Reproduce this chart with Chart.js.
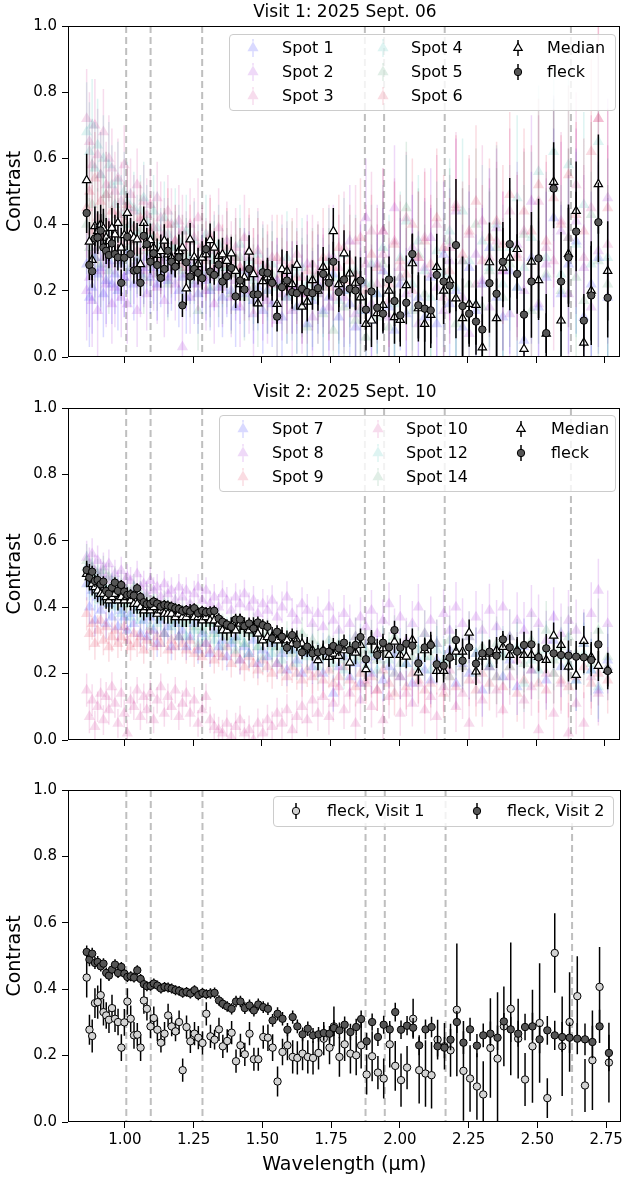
<!DOCTYPE html>
<html>
<head>
<meta charset="utf-8">
<script src="https://cdn.jsdelivr.net/npm/chart.js@4.4.0/dist/chart.umd.min.js"></script>
<style>
  body { margin: 0; background: #fff; font-family: 'DejaVu Sans', sans-serif; }
  #fig { position: relative; width: 626px; height: 1179px; overflow: hidden; }
  canvas { position: absolute; left: 0; }
  .title { position: absolute; left: 68px; width: 554px; text-align: center; font-size: 17px; line-height: 20px; }
  .legend { position: absolute; box-sizing: border-box; border: 1px solid #cccccc; border-radius: 4px; background: rgba(255,255,255,0.8); font-size: 16px; }
  .item { position: absolute; height: 24px; line-height: 24px; white-space: nowrap; }
  .item svg { position: absolute; left: 0; top: 0; }
</style>
</head>
<body>
<div id="fig">
  <canvas id="c1" width="626" height="372" style="top:0px"></canvas>
  <canvas id="c2" width="626" height="373" style="top:382px"></canvas>
  <canvas id="c3" width="626" height="415" style="top:764px"></canvas>
  <div class="title" style="top:1px">Visit 1: 2025 Sept. 06</div>
  <div class="title" style="top:381px">Visit 2: 2025 Sept. 10</div>
  <div class="legend" id="leg1" style="left:229px;top:34px;width:387px;height:77px"></div>
  <div class="legend" id="leg2" style="left:219px;top:415px;width:397px;height:77px"></div>
  <div class="legend" id="leg3" style="left:273px;top:796px;width:341px;height:31px"></div>
</div>
<script>
// wavelength grid (micron)
const wavelength = [
  0.861,0.871,0.881,0.891,0.901,0.912,0.922,0.932,0.942,0.953,
  0.964,0.975,0.987,0.998,1.009,1.021,1.033,1.045,1.057,1.069,
  1.080,1.093,1.105,1.118,1.131,1.144,1.157,1.170,1.184,1.197,
  1.210,1.224,1.238,1.253,1.267,1.282,1.296,1.311,1.326,1.342,
  1.356,1.372,1.388,1.404,1.420,1.436,1.453,1.469,1.485,1.503,
  1.520,1.537,1.555,1.573,1.591,1.610,1.627,1.646,1.665,1.684,
  1.704,1.723,1.744,1.760,1.780,1.799,1.820,1.841,1.859,1.879,
  1.899,1.920,1.941,1.963,1.983,2.004,2.026,2.048,2.070,2.093,
  2.115,2.137,2.162,2.184,2.207,2.231,2.255,2.280,2.303,2.329,
  2.355,2.378,2.403,2.430,2.455,2.482,2.508,2.536,2.563,2.590,
  2.617,2.645,2.673,2.700,2.726,2.760];

// fleck, visit 1
const fleck1 = [
  .435,.278,.259,.358,.361,.382,.331,.321,.308,.343,
  .311,.301,.224,.300,.363,.311,.261,.263,.224,.366,
  .341,.288,.313,.278,.239,.266,.321,.288,.273,.301,
  .156,.286,.243,.266,.254,.238,.326,.258,.248,.279,
  .228,.244,.269,.183,.231,.204,.266,.189,.189,.256,
  .254,.224,.122,.211,.231,.196,.193,.206,.196,.193,
  .208,.251,.224,.288,.196,.234,.206,.201,.231,.143,
  .198,.149,.131,.234,.169,.126,.164,.311,.156,.146,
  .141,.248,.228,.216,.338,.154,.131,.107,.083,.223,
  .191,.288,.341,.251,.128,.228,.298,.072,.509,.228,
  .301,.379,.110,.186,.407,.179];
const fleck1Err = [
  .06,.045,.05,.045,.05,.05,.04,.04,.04,.04,
  .04,.04,.04,.04,.04,.04,.04,.035,.04,.04,
  .035,.035,.035,.035,.03,.035,.035,.03,.03,.035,
  .035,.035,.035,.035,.035,.035,.035,.035,.03,.035,
  .035,.035,.035,.035,.035,.035,.035,.035,.035,.035,
  .04,.04,.045,.04,.045,.05,.05,.05,.05,.05,
  .05,.05,.05,.06,.06,.05,.06,.06,.07,.06,
  .075,.05,.06,.07,.075,.08,.065,.06,.1,.1,
  .1,.06,.07,.08,.2,.15,.1,.1,.1,.15,
  .2,.12,.2,.12,.08,.17,.18,.06,.12,.15,
  .15,.12,.08,.15,.12,.12];

// fleck, visit 2
const fleck2 = [
  .512,.489,.507,.479,.482,.469,.477,.449,.441,.459,
  .474,.449,.467,.447,.437,.439,.435,.457,.431,.415,
  .409,.410,.417,.411,.402,.407,.405,.402,.397,.395,
  .389,.392,.387,.397,.382,.389,.385,.387,.389,.366,
  .356,.348,.341,.363,.363,.343,.351,.336,.354,.346,
  .341,.306,.326,.311,.278,.316,.288,.264,.281,.261,
  .264,.268,.266,.283,.276,.293,.271,.286,.310,.243,
  .301,.256,.293,.279,.331,.278,.290,.284,.231,.279,
  .286,.228,.224,.248,.301,.239,.279,.230,.261,.266,
  .254,.303,.279,.266,.286,.288,.249,.276,.261,.256,
  .254,.251,.249,.241,.288,.208];
const fleck2Err = [
  .02,.02,.018,.018,.018,.016,.016,.016,.016,.016,
  .016,.015,.015,.015,.015,.015,.015,.015,.015,.015,
  .015,.015,.015,.015,.015,.015,.015,.015,.015,.015,
  .015,.015,.015,.015,.015,.015,.015,.016,.016,.016,
  .016,.016,.017,.017,.017,.018,.018,.018,.018,.018,
  .019,.019,.02,.02,.02,.02,.021,.021,.022,.022,
  .022,.023,.023,.024,.024,.025,.025,.025,.026,.026,
  .026,.027,.027,.015,.028,.028,.029,.029,.03,.03,
  .031,.031,.032,.032,.033,.034,.035,.035,.036,.037,
  .037,.025,.038,.039,.04,.041,.042,.043,.044,.045,
  .046,.047,.048,.049,.05,.055];

// median of spots, visit 1
const median1 = [
  .534,.348,.293,.395,.38,.40,.388,.36,.35,.39,
  .37,.405,.33,.368,.435,.37,.36,.355,.28,.405,
  .34,.353,.33,.308,.32,.351,.31,.30,.29,.32,
  .33,.207,.355,.301,.28,.30,.31,.353,.33,.305,
  .31,.29,.313,.26,.22,.24,.318,.25,.162,.229,
  .24,.23,.16,.265,.26,.22,.278,.152,.167,.232,
  .20,.272,.24,.38,.22,.313,.252,.224,.18,.10,
  .11,.132,.157,.20,.12,.112,.217,.283,.147,.10,
  .127,.272,.20,.232,.177,.117,.16,.157,.029,.286,
  .117,.27,.30,.326,.024,.288,.232,.07,.529,.11,
  .311,.441,.043,.20,.522,.26];
const median1Err = [
  .08,.06,.06,.06,.06,.06,.06,.06,.06,.06,
  .06,.06,.06,.06,.06,.05,.05,.05,.05,.05,
  .05,.05,.05,.05,.05,.05,.05,.05,.05,.05,
  .05,.05,.05,.05,.05,.05,.05,.05,.05,.05,
  .05,.05,.05,.05,.05,.05,.05,.05,.06,.06,
  .06,.06,.06,.06,.06,.06,.06,.08,.06,.06,
  .06,.06,.06,.07,.07,.07,.07,.08,.08,.08,
  .08,.08,.08,.08,.08,.08,.09,.09,.1,.1,
  .1,.1,.1,.1,.12,.12,.12,.12,.1,.12,
  .12,.12,.12,.15,.12,.15,.12,.12,.12,.15,
  .15,.15,.12,.15,.15,.15];

// median of spots, visit 2
const median2 = [
  .50,.49,.47,.46,.45,.44,.44,.43,.42,.43,
  .44,.42,.43,.42,.43,.42,.41,.41,.40,.39,
  .40,.39,.40,.38,.39,.38,.38,.38,.37,.38,
  .37,.37,.38,.37,.37,.36,.37,.36,.36,.35,
  .33,.33,.34,.33,.35,.34,.33,.34,.32,.30,
  .31,.31,.30,.31,.30,.29,.30,.29,.28,.27,
  .24,.27,.25,.26,.253,.27,.233,.263,.286,.213,
  .296,.27,.276,.256,.296,.256,.251,.301,.203,.27,
  .291,.208,.208,.25,.266,.266,.323,.206,.251,.26,
  .27,.28,.256,.27,.256,.256,.25,.241,.314,.286,
  .221,.196,.298,.25,.223,.211];
const median2Err = [
  .04,.04,.035,.035,.035,.035,.035,.035,.035,.035,
  .03,.03,.03,.03,.03,.03,.03,.03,.03,.03,
  .03,.03,.03,.03,.03,.03,.03,.03,.03,.03,
  .03,.03,.03,.03,.03,.03,.03,.03,.03,.03,
  .03,.03,.03,.03,.03,.03,.03,.03,.03,.03,
  .03,.03,.03,.03,.03,.03,.03,.03,.03,.03,
  .03,.03,.03,.03,.03,.03,.035,.035,.035,.035,
  .035,.035,.035,.035,.035,.035,.035,.035,.035,.035,
  .035,.035,.035,.035,.04,.04,.04,.04,.04,.04,
  .04,.04,.04,.04,.04,.04,.04,.04,.04,.04,
  .045,.045,.045,.045,.045,.05];

// individual spots, visit 1
const spot1 = [
  .28,.18,.21,.30,.25,.27,.19,.23,.29,.22,
  .25,.20,.28,.24,.31,.26,.22,.29,.25,.27,
  .30,.24,.27,.22,.26,.29,.23,.25,.28,.20,
  .24,.18,.27,.22,.19,.25,.23,.20,.26,.21,
  .18,.24,.20,.15,.22,.19,.25,.17,.21,.14,
  .20,.16,.23,.12,.18,.21,.15,.19,.10,.17,
  .22,.14,.18,.25,.12,.20,.16,.09,.23,.14,
  .11,.19,.26,.15,.08,.22,.13,.29,.18,.12,
  .24,.10,.31,.16,.20,.09,.27,.14,.22,.33,
  .18,.12,.26,.21,.05,.30,.15,.24,.42,.19,
  .28,.35,.12,.22,.30,.18];
const spot2 = [
  .20,.24,.17,.32,.14,.26,.30,.22,.28,.16,
  .21,.29,.18,.24,.16,.31,.27,.14,.23,.26,
  .19,.28,.25,.21,.30,.17,.24,.27,.22,.32,
  .03,.25,.18,.29,.22,.27,.20,.24,.16,.28,
  .21,.25,.18,.23,.15,.26,.20,.13,.24,.18,
  .17,.22,.11,.19,.25,.14,.21,.16,.28,.12,
  .19,.24,.15,.30,.21,.18,.35,.13,.22,.42,
  .16,.28,.38,.12,.45,.24,.19,.33,.10,.27,
  .36,.21,.14,.29,.44,.18,.07,.31,.23,.15,
  .39,.26,.13,.34,.20,.47,.16,.28,.52,.38,
  .19,.41,.27,.15,.32,.48];
const spot3 = [
  .72,.65,.58,.70,.61,.55,.68,.52,.60,.57,
  .50,.54,.47,.58,.45,.49,.44,.52,.41,.47,
  .43,.46,.39,.48,.42,.37,.44,.40,.35,.41,
  .38,.33,.40,.36,.42,.34,.30,.37,.32,.39,
  .31,.35,.29,.33,.27,.36,.30,.26,.32,.28,
  .25,.30,.23,.29,.27,.21,.31,.24,.19,.28,
  .26,.22,.30,.18,.27,.33,.21,.35,.15,.28,
  .38,.22,.31,.17,.35,.27,.42,.20,.30,.36,
  .25,.40,.18,.33,.46,.29,.37,.22,.41,.30,
  .35,.26,.44,.31,.38,.23,.47,.33,.29,.41,
  .36,.52,.30,.45,.72,.34];
const spot4 = [
  .68,.62,.70,.57,.64,.55,.60,.49,.58,.52,
  .46,.53,.43,.50,.47,.40,.45,.38,.44,.48,
  .41,.36,.44,.39,.34,.42,.37,.33,.40,.35,
  .32,.38,.30,.35,.28,.33,.37,.29,.31,.34,
  .27,.32,.25,.30,.34,.26,.29,.23,.31,.27,
  .24,.28,.21,.26,.30,.19,.25,.27,.22,.18,
  .25,.21,.29,.24,.17,.31,.20,.26,.14,.22,
  .28,.19,.33,.24,.16,.30,.41,.22,.35,.26,
  .18,.32,.25,.38,.21,.44,.29,.16,.35,.27,
  .40,.22,.33,.48,.27,.36,.56,.30,.62,.25,
  .58,.34,.46,.28,.65,.30];
const spot5 = [
  .40,.33,.46,.30,.37,.28,.42,.35,.26,.38,
  .31,.36,.29,.40,.33,.27,.35,.30,.38,.24,
  .32,.28,.36,.25,.30,.34,.22,.29,.33,.27,
  .26,.31,.23,.28,.14,.30,.25,.21,.29,.24,
  .22,.27,.19,.25,.30,.18,.24,.21,.16,.26,
  .20,.25,.12,.22,.18,.27,.15,.21,.09,.24,
  .19,.13,.23,.08,.20,.15,.26,.11,.18,.06,
  .22,.12,.28,.09,.17,.24,.45,.14,.31,.19,
  .13,.27,.20,.35,.10,.29,.22,.40,.15,.26,
  .33,.18,.28,.21,.37,.14,.30,.25,.51,.20,
  .36,.24,.17,.43,.29,.22];
const spot6 = [
  .45,.50,.38,.54,.42,.47,.36,.49,.40,.44,
  .37,.43,.34,.41,.46,.35,.39,.32,.42,.36,
  .33,.38,.31,.36,.29,.34,.40,.30,.35,.28,
  .32,.27,.35,.30,.26,.33,.29,.36,.27,.31,
  .28,.33,.25,.30,.27,.24,.32,.26,.29,.23,
  .27,.22,.30,.25,.21,.28,.24,.19,.26,.23,
  .25,.30,.21,.27,.33,.23,.29,.25,.36,.20,
  .31,.27,.38,.22,.34,.29,.25,.40,.30,.35,
  .28,.42,.33,.26,.45,.31,.38,.47,.29,.36,
  .41,.34,.49,.30,.44,.38,.52,.35,.48,.40,
  .55,.43,.38,.62,.72,.45];
const spotErr1 = [
  .15,.15,.14,.14,.14,.13,.13,.13,.13,.12,
  .12,.12,.12,.12,.12,.11,.11,.11,.11,.11,
  .11,.11,.11,.11,.11,.11,.11,.11,.11,.11,
  .11,.11,.11,.12,.12,.12,.12,.12,.12,.12,
  .12,.12,.12,.12,.12,.13,.13,.13,.13,.13,
  .13,.13,.13,.14,.14,.14,.14,.15,.15,.15,
  .15,.15,.16,.16,.16,.17,.17,.17,.18,.18,
  .18,.18,.19,.19,.19,.20,.20,.20,.20,.21,
  .21,.21,.22,.22,.22,.22,.23,.23,.23,.24,
  .24,.24,.25,.25,.25,.26,.26,.26,.27,.27,
  .27,.28,.28,.28,.29,.30];

// individual spots, visit 2
const spot7 = [
  .47,.40,.45,.36,.43,.39,.44,.35,.41,.37,
  .42,.34,.39,.37,.33,.38,.35,.40,.32,.36,
  .31,.37,.33,.29,.36,.32,.34,.28,.35,.31,
  .33,.28,.31,.35,.27,.32,.29,.26,.33,.28,
  .30,.25,.29,.31,.24,.28,.26,.30,.23,.27,
  .25,.29,.23,.26,.21,.27,.24,.20,.26,.22,
  .24,.20,.26,.14,.22,.25,.19,.23,.17,.24,
  .20,.25,.18,.22,.26,.19,.23,.17,.24,.21,
  .18,.24,.21,.27,.17,.23,.20,.26,.15,.22,
  .27,.19,.24,.16,.28,.21,.25,.18,.30,.22,
  .26,.18,.29,.21,.15,.24];
const spot8 = [
  .55,.53,.56,.51,.54,.50,.52,.49,.53,.48,
  .50,.47,.51,.46,.49,.48,.45,.50,.46,.47,
  .44,.48,.45,.46,.43,.47,.44,.45,.42,.46,
  .43,.45,.41,.44,.46,.42,.45,.41,.43,.40,
  .44,.42,.39,.43,.41,.44,.40,.42,.38,.41,
  .39,.42,.37,.40,.43,.38,.36,.41,.39,.35,
  .38,.34,.40,.36,.33,.38,.35,.31,.37,.34,
  .39,.32,.36,.41,.33,.37,.30,.35,.40,.32,
  .36,.29,.38,.33,.40,.35,.31,.37,.33,.39,
  .34,.40,.31,.36,.33,.38,.35,.30,.37,.32,
  .36,.33,.30,.38,.45,.35];
const spot9 = [
  .38,.32,.35,.29,.33,.36,.30,.34,.28,.31,
  .33,.29,.31,.34,.30,.28,.32,.29,.31,.27,
  .30,.33,.28,.31,.29,.32,.27,.30,.28,.31,
  .29,.27,.30,.26,.28,.25,.29,.27,.24,.26,
  .25,.28,.23,.26,.24,.22,.25,.23,.21,.24,
  .22,.20,.23,.21,.19,.22,.20,.18,.21,.19,
  .20,.18,.21,.17,.19,.22,.18,.16,.20,.17,
  .19,.15,.21,.17,.14,.19,.16,.20,.18,.15,
  .17,.21,.14,.19,.16,.22,.18,.15,.20,.17,
  .19,.16,.22,.14,.18,.21,.17,.15,.20,.18,
  .16,.19,.22,.17,.20,.18];
const spot10 = [
  .15,.07,.12,.04,.10,.14,.06,.13,.09,.16,
  .11,.05,.14,.08,.02,.12,.10,.15,.07,.13,
  .09,.14,.06,.12,.16,.08,.13,.10,.15,.07,
  .11,.14,.08,.12,.05,.09,.13,.06,.04,.03,
  .02,.05,.01,.04,.06,.02,.03,.00,.05,.02,
  .06,.04,.08,.05,.09,.03,.07,.10,.06,.12,
  .08,.13,.07,.11,.16,.09,.14,.05,.12,.18,
  .10,.15,.06,.13,.20,.08,.14,.11,.17,.09,
  .13,.07,.16,.21,.10,.14,.05,.18,.12,.22,
  .15,.09,.19,.24,.12,.16,.03,.20,.08,.17,
  .02,.11,.05,.19,.14,.22];
const spot12 = [
  .52,.47,.50,.44,.48,.42,.47,.45,.41,.46,
  .40,.45,.38,.43,.41,.37,.44,.39,.36,.41,
  .38,.34,.40,.35,.37,.32,.39,.34,.36,.31,
  .35,.31,.36,.33,.29,.34,.31,.35,.30,.32,
  .28,.33,.30,.27,.31,.29,.26,.32,.28,.25,
  .30,.26,.28,.24,.29,.27,.23,.28,.25,.27,
  .22,.27,.25,.23,.28,.21,.26,.24,.29,.22,
  .26,.21,.28,.24,.20,.27,.23,.29,.22,.25,
  .21,.27,.24,.19,.26,.22,.28,.20,.25,.23,
  .19,.26,.22,.28,.17,.24,.21,.27,.20,.25,
  .23,.18,.26,.21,.16,.22];
const spot14 = [
  .54,.49,.52,.46,.50,.47,.51,.44,.49,.45,
  .48,.43,.47,.41,.45,.42,.46,.40,.44,.39,
  .43,.38,.42,.40,.37,.41,.38,.36,.40,.37,
  .39,.35,.38,.34,.37,.33,.36,.35,.32,.36,
  .34,.31,.35,.30,.33,.29,.32,.34,.28,.31,
  .32,.28,.30,.27,.31,.26,.29,.32,.27,.30,
  .28,.25,.30,.26,.29,.24,.28,.31,.25,.27,
  .30,.24,.28,.26,.31,.23,.29,.25,.27,.32,
  .25,.29,.23,.30,.27,.24,.31,.26,.28,.22,
  .29,.25,.31,.27,.23,.30,.26,.33,.24,.28,
  .31,.26,.29,.23,.33,.25];
const spotErr2 = [
  .05,.05,.048,.048,.046,.046,.045,.045,.044,.044,
  .043,.043,.042,.042,.041,.041,.04,.04,.04,.04,
  .04,.04,.04,.04,.04,.04,.04,.04,.04,.04,
  .04,.04,.04,.04,.04,.04,.04,.04,.04,.04,
  .041,.041,.042,.042,.043,.043,.044,.044,.045,.045,
  .046,.046,.047,.047,.048,.048,.049,.05,.05,.051,
  .052,.053,.054,.055,.056,.057,.058,.059,.06,.061,
  .062,.063,.064,.065,.066,.067,.068,.069,.07,.071,
  .072,.073,.074,.075,.076,.077,.078,.079,.08,.081,
  .082,.083,.084,.085,.086,.087,.088,.089,.09,.091,
  .092,.093,.094,.095,.096,.1];

// hydrogen line positions (dashed), ticks
const lineWaves = [1.005, 1.094, 1.282, 1.875, 1.945, 2.166, 2.626];
const xTicks = [1.00, 1.25, 1.50, 1.75, 2.00, 2.25, 2.50, 2.75];
const yTicks = [0, 0.2, 0.4, 0.6, 0.8, 1.0];
const xMin = 0.793, xMax = 2.803;

Chart.defaults.font.family = "'DejaVu Sans', sans-serif";
Chart.defaults.color = '#000';
Chart.defaults.animation = false;

const BLUE = [0, 0, 255], VIOLET = [148, 0, 211], MVRED = [199, 21, 133],
      TEAL = [32, 178, 170], GREEN = [46, 139, 87], CRIMSON = [220, 20, 60];
const rgba = (c, a) => 'rgba(' + c.join(',') + ',' + a + ')';
const SPOT_ALPHA = 0.15;

const pts = ys => wavelength.map((x, i) => ({ x: x, y: ys[i] }));

function spotSet(label, ys, errs, col) {
  return {
    label: label, data: pts(ys), errors: errs,
    errorColor: rgba(col, SPOT_ALPHA), errorWidth: 1.5,
    pointStyle: 'triangle', pointRadius: 6.5,
    backgroundColor: rgba(col, SPOT_ALPHA), borderWidth: 0, clip: 0
  };
}
function medianSet(ys, errs) {
  return {
    label: 'Median', data: pts(ys), errors: errs,
    errorColor: '#000', errorWidth: 1.5,
    pointStyle: 'triangle', pointRadius: 4.8,
    backgroundColor: '#fff', borderColor: '#000', borderWidth: 1.2, clip: 0
  };
}
function fleckSet(label, ys, errs, fill) {
  return {
    label: label, data: pts(ys), errors: errs,
    errorColor: '#000', errorWidth: 1.5,
    pointStyle: 'circle', pointRadius: 3.7,
    backgroundColor: fill, borderColor: '#000', borderWidth: 1, clip: 0
  };
}

// error bars drawn just before each dataset's markers
const errorBars = {
  id: 'errorBars',
  beforeDatasetDraw(chart, args) {
    const ds = chart.data.datasets[args.index];
    if (!ds.errors) return;
    const { ctx, chartArea } = chart;
    const y = chart.scales.y;
    ctx.save();
    ctx.beginPath();
    ctx.rect(chartArea.left, chartArea.top, chartArea.right - chartArea.left, chartArea.bottom - chartArea.top);
    ctx.clip();
    ctx.strokeStyle = ds.errorColor;
    ctx.lineWidth = ds.errorWidth;
    ctx.beginPath();
    args.meta.data.forEach((el, i) => {
      const v = ds.data[i].y, e = ds.errors[i];
      ctx.moveTo(el.x, y.getPixelForValue(v - e));
      ctx.lineTo(el.x, y.getPixelForValue(v + e));
    });
    ctx.stroke();
    ctx.restore();
  }
};

// dashed reference lines and the axes frame
const decor = {
  id: 'decor',
  beforeDatasetsDraw(chart) {
    const { ctx, chartArea } = chart;
    const x = chart.scales.x;
    ctx.save();
    ctx.strokeStyle = 'rgba(128,128,128,0.5)';
    ctx.lineWidth = 2;
    ctx.setLineDash([7, 4]);
    lineWaves.forEach(w => {
      const px = x.getPixelForValue(w);
      ctx.beginPath();
      ctx.moveTo(px, chartArea.top);
      ctx.lineTo(px, chartArea.bottom);
      ctx.stroke();
    });
    ctx.restore();
  },
  afterDraw(chart) {
    const { ctx, chartArea } = chart;
    ctx.save();
    ctx.strokeStyle = '#000';
    ctx.lineWidth = 1;
    ctx.strokeRect(Math.round(chartArea.left) + 0.5, Math.round(chartArea.top) + 0.5,
      Math.round(chartArea.right - chartArea.left) - 1, Math.round(chartArea.bottom - chartArea.top) - 1);
    ctx.restore();
  }
};

function makeOptions(showX) {
  return {
    responsive: false,
    events: [],
    layout: { padding: { top: 26, right: 4, left: 0, bottom: 0 } },
    plugins: { legend: { display: false }, tooltip: { enabled: false } },
    scales: {
      x: {
        type: 'linear', min: xMin, max: xMax,
        afterBuildTicks: s => { s.ticks = xTicks.map(v => ({ value: v })); },
        afterFit: s => { s.height = showX ? 57 : 15; },
        grid: { drawOnChartArea: false, color: '#000', tickLength: 6 },
        border: { display: false },
        ticks: { display: showX, padding: 3, font: { size: 15 }, maxRotation: 0, autoSkip: false,
                 callback: v => v.toFixed(2) },
        title: { display: showX, text: 'Wavelength (μm)', font: { size: 19 }, padding: { top: 0, bottom: 3 } }
      },
      y: {
        type: 'linear', min: 0, max: 1,
        afterBuildTicks: s => { s.ticks = yTicks.map(v => ({ value: v })); },
        afterFit: s => { s.width = 68; },
        grid: { drawOnChartArea: false, color: '#000', tickLength: 6 },
        border: { display: false },
        ticks: { padding: 5, font: { size: 15 }, callback: v => v.toFixed(1) },
        title: { display: true, text: 'Contrast', font: { size: 19 }, padding: { top: 4, bottom: 0 } }
      }
    }
  };
}

// panel 1: visit 1
new Chart(document.getElementById('c1'), {
  type: 'scatter',
  data: { datasets: [
    fleckSet('fleck', fleck1, fleck1Err, '#555555'),
    medianSet(median1, median1Err),
    spotSet('Spot 6', spot6, spotErr1, CRIMSON),
    spotSet('Spot 5', spot5, spotErr1, GREEN),
    spotSet('Spot 4', spot4, spotErr1, TEAL),
    spotSet('Spot 3', spot3, spotErr1, MVRED),
    spotSet('Spot 2', spot2, spotErr1, VIOLET),
    spotSet('Spot 1', spot1, spotErr1, BLUE)
  ] },
  options: makeOptions(false),
  plugins: [errorBars, decor]
});

// panel 2: visit 2
new Chart(document.getElementById('c2'), {
  type: 'scatter',
  data: { datasets: [
    fleckSet('fleck', fleck2, fleck2Err, '#555555'),
    medianSet(median2, median2Err),
    spotSet('Spot 14', spot14, spotErr2, GREEN),
    spotSet('Spot 12', spot12, spotErr2, TEAL),
    spotSet('Spot 10', spot10, spotErr2, MVRED),
    spotSet('Spot 9', spot9, spotErr2, CRIMSON),
    spotSet('Spot 8', spot8, spotErr2, VIOLET),
    spotSet('Spot 7', spot7, spotErr2, BLUE)
  ] },
  options: makeOptions(false),
  plugins: [errorBars, decor]
});

// panel 3: both visits
new Chart(document.getElementById('c3'), {
  type: 'scatter',
  data: { datasets: [
    fleckSet('fleck, Visit 2', fleck2, fleck2Err, '#555555'),
    fleckSet('fleck, Visit 1', fleck1, fleck1Err, '#d3d3d3')
  ] },
  options: makeOptions(true),
  plugins: [errorBars, decor]
});

// legends (html, matplotlib style)
function legendItem(boxId, kind, color, text, mx, cy, tx) {
  const d = document.createElement('div');
  d.className = 'item';
  d.style.left = (mx - 12) + 'px';
  d.style.top = (cy - 12) + 'px';
  let shape = '';
  if (kind === 'spot') {
    shape = '<line x1="12" y1="3" x2="12" y2="5.5" stroke="' + color + '" stroke-width="1.5"/>' +
            '<line x1="12" y1="15.3" x2="12" y2="21" stroke="' + color + '" stroke-width="1.5"/>' +
            '<polygon points="12,5.5 17.6,15.3 6.4,15.3" fill="' + color + '"/>';
  } else if (kind === 'median') {
    shape = '<line x1="12" y1="4" x2="12" y2="20" stroke="#000" stroke-width="1.5"/>' +
            '<polygon points="12,7.2 16.2,14.4 7.8,14.4" fill="#fff" stroke="#000" stroke-width="1.2"/>';
  } else {
    shape = '<line x1="12" y1="4" x2="12" y2="20" stroke="#000" stroke-width="1.5"/>' +
            '<circle cx="12" cy="12" r="3.7" fill="' + color + '" stroke="#000" stroke-width="1"/>';
  }
  d.innerHTML = '<svg width="24" height="24">' + shape + '</svg>' +
    '<span style="position:absolute;top:0;left:' + (tx - mx + 12) + 'px">' + text + '</span>';
  document.getElementById(boxId).appendChild(d);
}
const sc = c => rgba(c, SPOT_ALPHA);
legendItem('leg1', 'spot', sc(BLUE), 'Spot 1', 23, 13, 52);
legendItem('leg1', 'spot', sc(VIOLET), 'Spot 2', 23, 37, 52);
legendItem('leg1', 'spot', sc(MVRED), 'Spot 3', 23, 61, 52);
legendItem('leg1', 'spot', sc(TEAL), 'Spot 4', 153, 13, 181);
legendItem('leg1', 'spot', sc(GREEN), 'Spot 5', 153, 37, 181);
legendItem('leg1', 'spot', sc(CRIMSON), 'Spot 6', 153, 61, 181);
legendItem('leg1', 'median', '#000', 'Median', 288, 13, 317);
legendItem('leg1', 'fleck', '#555555', 'fleck', 288, 37, 317);

legendItem('leg2', 'spot', sc(BLUE), 'Spot 7', 23, 13, 52);
legendItem('leg2', 'spot', sc(VIOLET), 'Spot 8', 23, 37, 52);
legendItem('leg2', 'spot', sc(CRIMSON), 'Spot 9', 23, 61, 52);
legendItem('leg2', 'spot', sc(MVRED), 'Spot 10', 158, 13, 186);
legendItem('leg2', 'spot', sc(TEAL), 'Spot 12', 158, 37, 186);
legendItem('leg2', 'spot', sc(GREEN), 'Spot 14', 158, 61, 186);
legendItem('leg2', 'median', '#000', 'Median', 301, 13, 331);
legendItem('leg2', 'fleck', '#555555', 'fleck', 301, 37, 331);

legendItem('leg3', 'fleck', '#d3d3d3', 'fleck, Visit 1', 22, 14, 53);
legendItem('leg3', 'fleck', '#555555', 'fleck, Visit 2', 203, 14, 233);
</script>
</body>
</html>
